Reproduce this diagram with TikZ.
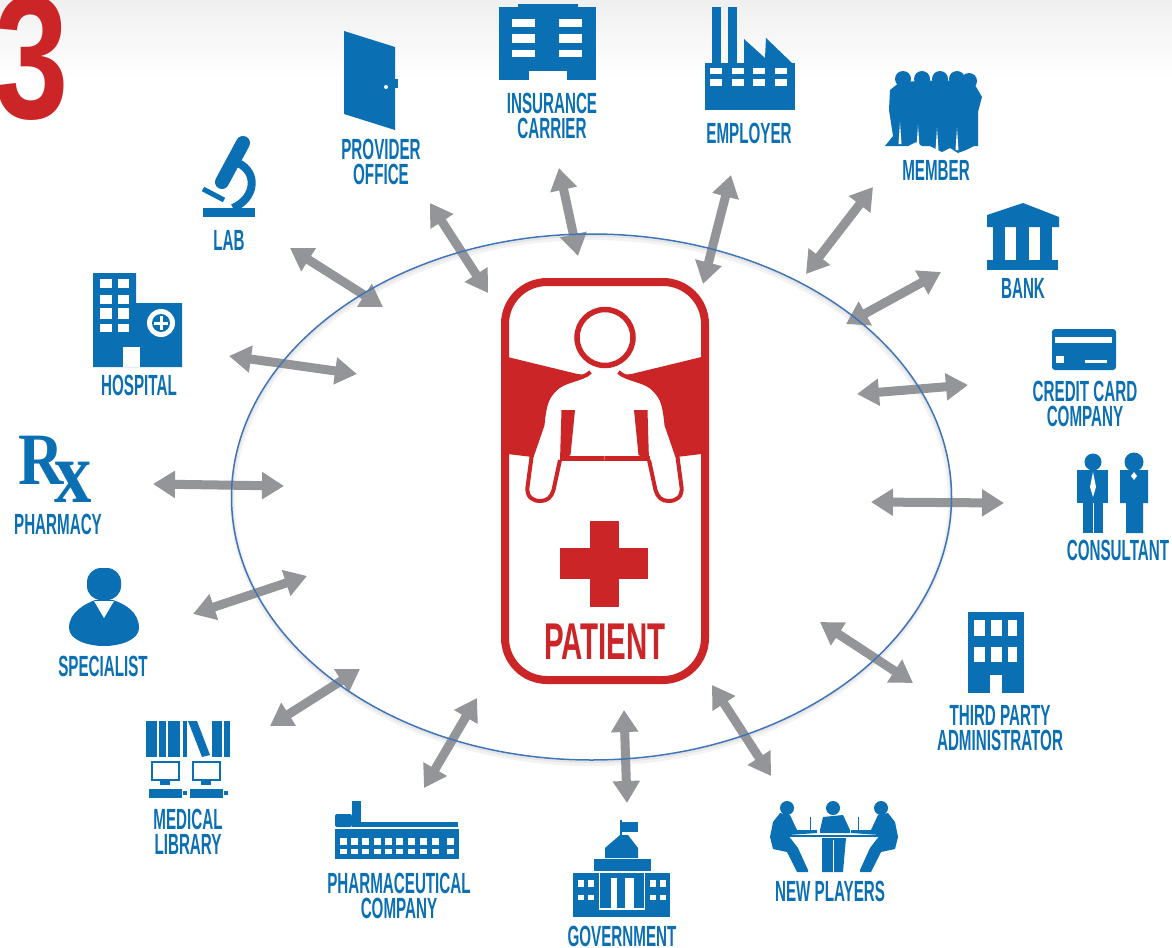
\documentclass[tikz,border=0pt]{standalone}
\usepackage{fontspec}
\usepackage{xcolor}
\usetikzlibrary{arrows.meta}
\newfontfamily\lblfont[FakeStretch=0.52]{Liberation Sans Bold}
\newfontfamily\patfont[FakeStretch=0.57]{Liberation Sans Bold}
\newfontfamily\numfont[FakeStretch=0.76]{Liberation Sans Bold}
\newfontfamily\rxfont[FakeStretch=0.85]{Liberation Serif Bold}
\definecolor{iconblue}{HTML}{0B70B3}
\definecolor{cardred}{HTML}{CC2527}
\definecolor{arrowgray}{HTML}{939598}
\definecolor{ringblue}{HTML}{3F75B8}
\tikzset{
  lbl/.style={font=\lblfont\fontsize{8.3}{7.1}\selectfont,text=iconblue,align=center,inner sep=0},
  twoway/.style={draw=arrowgray,line width=0.09cm,{Triangle[width=0.26cm,length=0.22cm]}-{Triangle[width=0.26cm,length=0.22cm]}},
  icon/.style={fill=iconblue},
  gap/.style={fill=white},
  redfill/.style={fill=cardred}
}
\begin{document}
\begin{tikzpicture}[x=0.01cm,y=-0.01cm]
\useasboundingbox (0,0) rectangle (1172,948);
\fill[white] (0,0) rectangle (1172,948);
\fill[top color=black!6,bottom color=white] (0,0) rectangle (1172,80);

\draw[black!5,line width=0.05cm] (591.5,500.5) ellipse [x radius=359,y radius=263];
\draw[black!10,line width=0.02cm] (591.5,499) ellipse [x radius=359.5,y radius=263];

\foreach \nm/\ax/\ay/\bx/\by in {provider/430/203/488/293,insurance/559/168/578/256,employer/731/175/703/284,member/873/187/806/274,bank/941/272/846/324,credit/968/385/857/394,consultant/1004/503/871/502,thirdparty/913/683/820/622,newplayers/771/776/712/685,government/627/803/624/710,pharma/424/788/477/698,medlib/270/726/360/669,specialist/193/614/307/576,pharmacy/153/484/284/486,hospital/229/356/357/374,lab/290/248/383/307}{
  \coordinate (\nm a) at (\ax,\ay);
  \coordinate (\nm b) at (\bx,\by);
  \draw[twoway] (\nm a) -- (\nm b);
}
\draw[ringblue,line width=0.015cm] (591.5,497) ellipse [x radius=360,y radius=263];

\node[font=\numfont\fontsize{50}{50}\selectfont,text=cardred,inner sep=0] (three) at (32,58) {3};

\draw[cardred,line width=0.08cm,fill=white,rounded corners=0.42cm] (505,282) rectangle (705,680);
\foreach \mx in {1,-1}{
\begin{scope}[shift={(604.5,0)},xscale=\mx]
\fill[redfill] (-97,357)--(-27,374)--(-10,376)--(-40,440)--(-72,457)--(-97,454)--cycle;
\fill[gap] (0,372)--(-14,372) .. controls (-22,380) and (-42,380) .. (-50,390) .. controls (-58,398) and (-60,405) .. (-62,425)--(-73,457)--(-77,487) .. controls (-78,497) and (-72,501) .. (-64,501) .. controls (-57,501) and (-53,497) .. (-51,490)--(-44.5,460)--(0,460)--cycle;
\draw[cardred,line width=0.04cm,line join=round] (-14,372) .. controls (-22,380) and (-42,380) .. (-50,390) .. controls (-58,398) and (-60,405) .. (-62,425)--(-73,457)--(-77,487) .. controls (-78,497) and (-72,501) .. (-64,501) .. controls (-57,501) and (-53,497) .. (-51,490)--(-44.5,460);
\fill[redfill] (-43,410)--(-29.5,410)--(-34,455)--(-44.5,461)--cycle;
\fill[redfill] (-45,455.5) rectangle (0,460.5);
\end{scope}
}
\draw[cardred,line width=0.055cm,fill=white] (605,337.5) circle [radius=28];
\fill[redfill] (590,521) rectangle (619,607);
\fill[redfill] (560,548) rectangle (648,579);
\node[lbl,font=\patfont\fontsize{14.7}{14.7}\selectfont,text=cardred] (patient) at (605,642) {PATIENT};

\fill[icon] (344,31)--(395,47)--(395,130)--(344,114)--cycle;
\fill[icon] (395,79) rectangle (398,88);
\fill[gap] (386,87) circle [radius=2];
\node[lbl] (providerlbl) at (381,161.5) {PROVIDER\\OFFICE};

\fill[icon] (499,7) rectangle (596,80);
\fill[icon] (518,4) rectangle (578,7);
\fill[gap] (529,71) rectangle (567,80);
\foreach \wx in {512,559}{
  \foreach \wy/\wz in {19/27,34/43,50/57}{
    \fill[gap] (\wx,\wy) rectangle (\wx+23,\wz);
  }
}
\node[lbl] (insurancelbl) at (552,115.5) {INSURANCE\\CARRIER};

\fill[icon] (712,7) rectangle (721,63);
\fill[icon] (728,7) rectangle (737,63);
\fill[icon] (744,39)--(765,58)--(766,38)--(792,63)--(744,63)--cycle;
\fill[icon] (705,63) rectangle (795,110);
\foreach \wx in {710,732,753,775}{
  \fill[gap] (\wx,68) rectangle (\wx+12,74);
  \fill[gap] (\wx,79) rectangle (\wx+12,86);
}
\node[lbl] (employerlbl) at (749,133) {EMPLOYER};

\foreach \hx/\hy in {903/79,922/79,940/79,957/79,969/81}{
  \fill[icon] (\hx,\hy) circle [radius=8];
}
\fill[icon] (890,90)--(900,82)--(945,80)--(975,85)--(982,97)--(978,112)--(978,146)--(974,146)--(966,150)--(958,153)--(950,148)--(942,152)--(930,146)--(922,146)--(916,142)--(908,146)--(898,146)--(885,146)--(893,136)--(889,110)--cycle;
\foreach \sx/\sy in {900/122,918/125,937/128,957/128}{
  \fill[gap] (\sx,\sy)--(\sx+1.5,\sy+22)--(\sx-1.5,\sy+22)--cycle;
}
\node[lbl] (memberlbl) at (936,170) {MEMBER};

\fill[icon] (1023,203)--(1059,217)--(1059,227)--(987,227)--(987,215)--cycle;
\foreach \cx/\cz in {993/1005,1016/1029,1040/1052}{
  \fill[icon] (\cx,227) rectangle (\cz,260);
}
\fill[icon] (987,260) rectangle (1058,270);
\node[lbl] (banklbl) at (1023,288) {BANK};

\fill[icon,rounded corners=0.03cm] (1052,329) rectangle (1116,370);
\fill[gap] (1055,337) rectangle (1112,343);
\fill[gap] (1056,356) rectangle (1064,363);
\fill[gap] (1085,360) rectangle (1107,363);
\node[lbl] (creditlbl) at (1085,404) {CREDIT CARD\\COMPANY};

\fill[icon] (1093,462) circle [radius=8.5];
\fill[icon] (1077,470) rectangle (1108,503);
\fill[icon] (1083,503) rectangle (1103,533);
\fill[gap] (1092.5,503) rectangle (1093.5,533);
\fill[gap] (1093,472)--(1096,487)--(1093,497)--(1090,487)--cycle;
\fill[icon] (1134,462) circle [radius=9.5];
\fill[icon] (1120,470)--(1148,470)--(1148,503)--(1143,503)--(1143,533)--(1126,533)--(1126,503)--(1120,503)--cycle;
\fill[gap] (1134,472)--(1137,476)--(1134,480)--(1131,476)--cycle;
\node[lbl] (consultantlbl) at (1118,550) {CONSULTANT};

\fill[icon] (968,612) rectangle (1024,693);
\foreach \wx/\wz in {974/985,991/1002,1008/1017}{
  \fill[gap] (\wx,620) rectangle (\wz,636);
  \fill[gap] (\wx,647) rectangle (\wz,662);
}
\fill[gap] (990,675) rectangle (1002,693);
\node[lbl] (thirdpartylbl) at (1000,728) {THIRD PARTY\\ADMINISTRATOR};

\foreach \hx in {787,833,881}{
  \fill[icon] (\hx,808) circle [radius=7];
}
\foreach \mx in {1,-1}{
\begin{scope}[shift={(834,0)},xscale=\mx]
\fill[icon] (-54,813)--(-44,815)--(-37,830)--(-17,830)--(-17,833)--(-46,835)--(-36,848)--(-26,870)--(-26,872)--(-37,872)--(-47,852)--(-61,849)--(-64,837)--(-61,822)--cycle;
\draw[iconblue,line width=0.008cm] (-24,817)--(-24,830);
\end{scope}
}
\fill[icon] (820,830)--(823,817)--(843,815)--(850,830)--(850,833)--(820,833)--cycle;
\fill[icon] (788,835) rectangle (880,837);
\fill[icon] (822,838)--(846,838)--(843,872)--(822,872)--cycle;
\fill[gap] (833,840) rectangle (834,872);
\node[lbl] (newplayerslbl) at (830,891) {NEW PLAYERS};

\fill[icon] (620,820) rectangle (621.5,835);
\fill[icon] (622,822) rectangle (638,832);
\fill[icon] (605,858)--(605,848)--(620,835)--(628,835)--(638,848)--(638,858)--cycle;
\fill[icon] (594,859) rectangle (651,871);
\fill[icon] (573,873) rectangle (599,917);
\fill[icon] (645,873) rectangle (670,917);
\fill[icon] (600,873) rectangle (644,908);
\fill[icon] (594,910) rectangle (650,917);
\fill[gap] (611,878) rectangle (617,908);
\fill[gap] (625,878) rectangle (634,908);
\foreach \wx in {578,588,650,660}{
  \fill[gap] (\wx,880) rectangle (\wx+6,887);
  \fill[gap] (\wx,895) rectangle (\wx+6,900);
}
\node[lbl] (governmentlbl) at (622,936) {GOVERNMENT};

\fill[icon] (352,801) rectangle (361,825);
\fill[icon,rounded corners=0.02cm] (335,827) rectangle (352,814);
\fill[icon] (352,822) rectangle (458,827);
\fill[icon] (335,829) rectangle (459,859);
\foreach \wx in {340,351,362,374,385,396,408,420,432,447}{
  \fill[gap] (\wx,838) rectangle (\wx+7,845);
  \fill[gap] (\wx,849) rectangle (\wx+7,854);
}
\node[lbl] (pharmalbl) at (399,896) {PHARMACEUTICAL\\COMPANY};

\foreach \bx/\bz in {146/157,159/166,168/180,183/187,212/222,224/230}{
  \fill[icon] (\bx,721) rectangle (\bz,757);
}
\fill[icon] (188,721)--(197,721)--(210,755)--(202,757)--cycle;
\foreach \mx in {151,192}{
  \draw[iconblue,line width=0.025cm] (\mx+1,762) rectangle (\mx+28,780);
  \fill[icon] (\mx+9,781) rectangle (\mx+19,785);
  \fill[icon] (\mx-2,789) rectangle (\mx+31,798);
  \fill[icon] (\mx+32,791) rectangle (\mx+36,795);
}
\node[lbl] (medliblbl) at (188,832) {MEDICAL\\LIBRARY};

\fill[icon,rounded corners=0.14cm] (87,568) rectangle (121,600);
\fill[icon] (69,628) .. controls (69,612) and (85,604) .. (95,600)--(113,600) .. controls (125,604) and (139,612) .. (139,628) .. controls (139,640) and (120,646) .. (104,646) .. controls (88,646) and (69,640) .. (69,628)--cycle;
\fill[gap] (94,601)--(114,601)--(104,618)--cycle;
\node[lbl] (specialistlbl) at (103,666) {SPECIALIST};

\node[font=\rxfont\fontsize{21}{21}\selectfont,text=iconblue,inner sep=0] (rxsign) at (55,469) {R\kern-0.12em\raisebox{-5.2pt}{\fontsize{25}{25}\selectfont x}};
\node[lbl] (pharmacylbl) at (58,524) {PHARMACY};

\fill[icon] (93,273)--(136,273)--(136,303)--(182,303)--(182,367)--(93,367)--cycle;
\foreach \wy/\wz in {279/288,295/304,308/319,324/332}{
  \fill[gap] (100,\wy) rectangle (112,\wz);
  \fill[gap] (118,\wy) rectangle (129,\wz);
}
\fill[gap] (123,347) rectangle (140,367);
\fill[gap] (161,323) circle [radius=14];
\fill[icon] (161,323) circle [radius=9];
\fill[gap] (159.5,316) rectangle (162.5,330);
\fill[gap] (154,321.5) rectangle (168,324.5);
\node[lbl] (hospitallbl) at (139,385) {HOSPITAL};

\fill[icon] (203,208) rectangle (255,217);
\draw[iconblue,line width=0.14cm,line cap=round] (243,143)--(222,182);
\draw[iconblue,line width=0.08cm] (238,163) .. controls (258,172) and (256,198) .. (233,208);
\draw[iconblue,line width=0.05cm] (203,189)--(224,200);
\node[lbl] (lablbl) at (229,240) {LAB};
\end{tikzpicture}
\end{document}
